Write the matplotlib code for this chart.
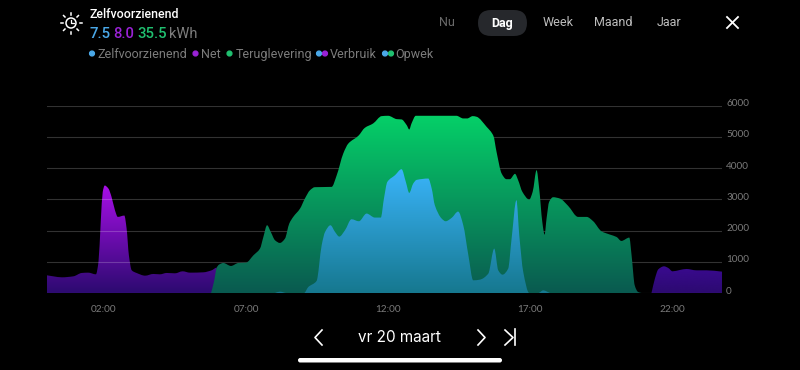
import matplotlib
matplotlib.use("Agg")
import matplotlib.pyplot as plt
import numpy as np
from matplotlib.colors import LinearSegmentedColormap
from matplotlib.patches import Circle, FancyBboxPatch
from matplotlib.path import Path
from matplotlib.transforms import ScaledTranslation

net_night_hours = [0.00, 0.22, 0.52, 0.93, 1.22, 1.45, 1.72, 1.81, 1.89, 1.96, 2.03, 2.16, 2.27, 2.39, 2.49,
                   2.72, 2.80, 2.88, 2.98, 3.15, 3.45, 3.74, 3.97, 4.21, 4.50, 4.77, 5.03, 5.50, 5.79, 5.97, 6.00]
net_night_values = [566, 534, 502, 534, 641, 651, 598, 993, 2275, 3236, 3439, 3343, 3076, 2649, 2435,
                    2478, 2061, 1207, 726, 641, 555, 609, 598, 641, 630, 694, 651, 662, 726, 812, 0]

net_evening_hours = [21.26, 21.38, 21.50, 21.70, 21.85, 22.00, 22.26, 22.49, 22.84, 23.20, 23.74]
net_evening_values = [0, 459, 758, 854, 801, 694, 737, 769, 726, 726, 684]

return_hours = [5.77, 5.87, 5.97, 6.05, 6.20, 6.47, 6.73, 7.00, 7.26, 7.49, 7.61, 7.74, 7.87, 8.02, 8.19, 8.37,
                8.52, 8.66, 8.90, 9.07, 9.25, 9.42, 10.01, 10.19, 10.42, 10.60, 10.95, 11.18, 11.47, 11.77,
                12.00, 12.30, 12.47, 12.65, 12.74, 12.82, 12.97, 14.40, 14.64, 14.78, 14.97, 15.11, 15.46,
                15.70, 15.81, 15.99, 16.16, 16.28, 16.46, 16.57, 16.72, 16.96, 17.08, 17.22, 17.31, 17.42,
                17.50, 17.57, 17.66, 17.80, 18.04, 18.33, 18.68, 18.98, 19.21, 19.50, 19.80, 20.03, 20.20,
                20.48, 20.56, 20.67, 20.79, 20.91]
return_values = [0, 352, 812, 908, 961, 865, 961, 972, 1207, 1420, 1794, 2168, 1954, 1687, 1602, 1741,
                 2221, 2435, 2702, 3022, 3289, 3386, 3396, 3770, 4464, 4785, 5030, 5287, 5425, 5660,
                 5671, 5564, 5554, 5372, 5233, 5425, 5671, 5671, 5586, 5586, 5660, 5639, 5319,
                 5030, 4518, 3823, 3642, 3642, 3813, 3610, 3236, 2990, 3236, 3930, 3343, 2275,
                 1869, 2382, 2916, 3065, 3022, 2787, 2435, 2435, 2296, 1976, 1869, 1794, 1666,
                 1773, 1207, 246, 32, 0]

self_hours = [8.02, 8.19, 8.43, 9.04, 9.19, 9.48, 9.66, 9.78, 9.97, 10.13, 10.28, 10.48, 10.71, 10.97, 11.24,
              11.53, 11.74, 11.85, 11.97, 12.24, 12.47, 12.62, 12.74, 12.88, 13.00, 13.41, 13.53, 13.64,
              13.88, 14.02, 14.23, 14.46, 14.64, 14.82, 14.99, 15.22, 15.52, 15.73, 15.87, 16.02, 16.22,
              16.34, 16.51, 16.61, 16.75, 16.96, 17.28, 17.45, 17.69]
self_values = [0, 43, 0, 0, 192, 384, 1527, 1954, 2168, 1954, 1805, 2008, 2360, 2296, 2542,
               2414, 2414, 3022, 3556, 3770, 3962, 3556, 3204, 3503, 3620, 3663, 3343, 2809,
               2382, 2296, 2403, 2606, 2168, 1207, 406, 427, 619, 1420, 726, 587, 780,
               1741, 2969, 1848, 673, 0, 0, 85, 0]

x_ticks = [2, 7, 12, 17, 22]
x_tick_labels = ["02:00", "07:00", "12:00", "17:00", "22:00"]
y_ticks = [0, 1000, 2000, 3000, 4000, 5000, 6000]

tabs = ["Nu", "Dag", "Week", "Maand", "Jaar"]
legend_names = ["Zelfvoorzienend", "Net", "Teruglevering", "Verbruik", "Opwek"]
totals = ["7.5", "8.0", "35.5"]

BLUE = "#4aa8e8"
PURPLE = "#9a22d6"
GREEN = "#20c070"
GREY = "#7c7c7c"


def smooth_area_path(hours, values):
    # monotone curve through the read values, closed along the zero line
    x = np.array(hours, dtype=float)
    y = np.array(values, dtype=float)
    h = np.diff(x)
    s = np.diff(y) / h
    m = np.zeros(len(x))
    both = s[:-1] * s[1:] > 0
    m[1:-1][both] = 2 * s[:-1][both] * s[1:][both] / (s[:-1][both] + s[1:][both])
    m[0], m[-1] = s[0], s[-1]
    verts = [(x[0], 0), (x[0], y[0])]
    codes = [Path.MOVETO, Path.LINETO]
    for i in range(len(h)):
        verts += [(x[i] + h[i] / 3, y[i] + m[i] * h[i] / 3),
                  (x[i + 1] - h[i] / 3, y[i + 1] - m[i + 1] * h[i] / 3),
                  (x[i + 1], y[i + 1])]
        codes += [Path.CURVE4] * 3
    verts += [(x[-1], 0), (x[0], 0)]
    codes += [Path.LINETO, Path.CLOSEPOLY]
    return Path(verts, codes)


def gradient_area(ax, hours, values, top, bottom, zorder):
    cmap = LinearSegmentedColormap.from_list("area", [bottom, top])
    grad = np.linspace(0, 1, 256).reshape(-1, 1)
    im = ax.imshow(grad, cmap=cmap, origin="lower", aspect="auto", zorder=zorder,
                   extent=[min(hours), max(hours), 0, max(values)])
    im.set_clip_path(smooth_area_path(hours, values), ax.transData)


fig = plt.figure(figsize=(8, 3.7), dpi=100, facecolor="black")
ax = fig.add_axes([47 / 800, 1 - 293 / 370, 675 / 800, 187.5 / 370], facecolor="black")

gradient_area(ax, net_night_hours, net_night_values, "#a80fe8", "#2c0a70", 2)
gradient_area(ax, net_evening_hours, net_evening_values, "#3a0a90", "#2c0a70", 2)
gradient_area(ax, return_hours, return_values, "#05d068", "#0a5a50", 3)
gradient_area(ax, self_hours, self_values, "#3ab4fa", "#16788f", 4)

ax.set_xlim(0, 23.74)
ax.set_ylim(0, 6000)
ax.set_xticks(x_ticks, x_tick_labels)
ax.set_yticks(y_ticks)
ax.yaxis.tick_right()
ax.set_axisbelow(False)
ax.grid(axis="y", color="white", alpha=0.2, linewidth=0.8)
ax.tick_params(length=0, labelcolor="#7a7a7a", labelsize=7.2)
ax.tick_params(axis="x", pad=9)
ax.tick_params(axis="y", pad=3)
for label in ax.get_xticklabels() + ax.get_yticklabels():
    label.set_family("Lato")
for label in ax.get_yticklabels():
    label.set_transform(label.get_transform() + ScaledTranslation(0, 2 / 72, fig.dpi_scale_trans))
for side in ax.spines.values():
    side.set_visible(False)

# header and footer live in an overlay with pixel coordinates
ui = fig.add_axes([0, 0, 1, 1], facecolor="none")
ui.set_xlim(0, 800)
ui.set_ylim(370, 0)
ui.axis("off")

# sun clock icon
ui.add_patch(Circle((71, 23), 5, fill=False, edgecolor="white", linewidth=1.1))
ui.plot([71, 71, 74], [19.5, 23, 23], color="white", linewidth=0.9)
for angle in np.deg2rad([0, 45, 90, 135, 180, 225, 270, 315]):
    ui.plot([71 + 8.5 * np.cos(angle), 71 + 10.5 * np.cos(angle)],
            [23 + 8.5 * np.sin(angle), 23 + 10.5 * np.sin(angle)], color="white", linewidth=1.1)

ui.text(89, 15, "Zelfvoorzienend", color="white", fontsize=8.9, family="Roboto", weight="medium", va="center")
ui.text(89, 34, totals[0], color=BLUE, fontsize=10.7, family="Roboto", weight="medium", va="center")
ui.text(113, 34, totals[1], color=PURPLE, fontsize=10.7, family="Roboto", weight="medium", va="center")
ui.text(137, 34, totals[2], color=GREEN, fontsize=10.7, family="Roboto", weight="medium", va="center")
ui.text(169, 34, "kWh", color=GREY, fontsize=10.5, family="Roboto", va="center")

# legend
legend_x = [97, 201, 236, 330, 395]
legend_dots = [[(92, BLUE)], [(195.5, PURPLE)], [(229.5, GREEN)],
               [(319, BLUE), (325, PURPLE)], [(385, BLUE), (391, GREEN)]]
for name, x, dots in zip(legend_names, legend_x, legend_dots):
    ui.text(x, 54.5, name, color=GREY, fontsize=9, family="Roboto", va="center")
    for dot_x, colour in dots:
        ui.add_patch(Circle((dot_x, 53.5), 2.4, color=colour))

# period tabs
ui.add_patch(FancyBboxPatch((478, 10), 49, 26, boxstyle="round,pad=0,rounding_size=13",
                            facecolor="#26282c", edgecolor="none"))
tab_x = [447, 502, 558, 613, 669]
tab_colours = ["#6a6a6a", "white", "#bdbdbd", "#bdbdbd", "#bdbdbd"]
for name, x, colour in zip(tabs, tab_x, tab_colours):
    ui.text(x, 23, name, color=colour, fontsize=9, family="Roboto", ha="center", va="center",
            weight="bold" if name == "Dag" else "normal")

# close button
ui.plot([727, 738], [17, 28], color="white", linewidth=1.3)
ui.plot([727, 738], [28, 17], color="white", linewidth=1.3)

# date navigation
ui.text(399.5, 337, "vr 20 maart", color="white", fontsize=11, family="Inter", ha="center", va="center")
ui.plot([322, 315, 322], [330, 337.5, 345], color="white", linewidth=1.2)
ui.plot([478, 485, 478], [330, 337.5, 345], color="white", linewidth=1.2)
ui.plot([505, 513, 505], [330, 337.5, 345], color="white", linewidth=1.2)
ui.plot([514.5, 514.5], [329, 345], color="white", linewidth=1.2)

# home bar
ui.add_patch(FancyBboxPatch((298, 358), 204, 4.5, boxstyle="round,pad=0,rounding_size=2.2",
                            facecolor="white", edgecolor="none"))

fig.savefig("out.png", dpi=100, facecolor="black")
